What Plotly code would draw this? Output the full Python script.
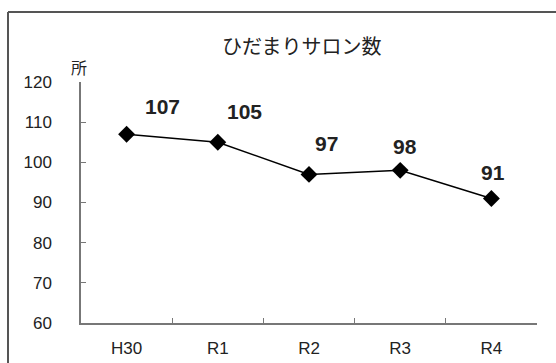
import plotly.graph_objects as go

categories = ["H30", "R1", "R2", "R3", "R4"]
values = [107, 105, 97, 98, 91]
y_ticks = [60, 70, 80, 90, 100, 110, 120]
title_text = "ひだまりサロン数"
unit_text = "所"

# label offsets (px) relative to each point
label_dx = [36, 27, 17, 5, 2]
label_dy = [28, 31, 31, 24, 26]

W, H = 556, 363
ml, mr, mt, mb = 81, 19, 82, 40
pw, ph = W - ml - mr, H - mt - mb

def px_x(p):
    return (p - ml) / pw

def px_y(p):
    return (H - mb - p) / ph

fig = go.Figure()
fig.add_trace(go.Scatter(
    x=categories, y=values, mode="lines+markers",
    line=dict(color="black", width=1.5),
    marker=dict(symbol="diamond", size=13, color="black"),
    hoverinfo="skip", showlegend=False,
))

font = "Liberation Sans, Arial, sans-serif"
for c, v, dx, dy in zip(categories, values, label_dx, label_dy):
    fig.add_annotation(x=c, y=v, text=f"<b>{v}</b>", showarrow=False,
                       xshift=dx, yshift=dy, xanchor="center", yanchor="middle",
                       font=dict(size=21, color="#222", family=font))

fig.add_annotation(xref="paper", yref="paper", x=px_x(302), y=px_y(45),
                   xanchor="center", yanchor="middle",
                   text=title_text, showarrow=False,
                   font=dict(size=20, color="#222", family="Noto Sans CJK JP"))
fig.add_annotation(xref="paper", yref="paper", x=px_x(79), y=px_y(67),
                   xanchor="center", yanchor="middle",
                   text=unit_text, showarrow=False,
                   font=dict(size=16, color="#222", family="Noto Sans CJK JP"))

# outer frame (left and top edges visible in the cropped view)
fig.add_shape(type="line", xref="paper", yref="paper",
              x0=px_x(8), y0=px_y(12), x1=px_x(8), y1=px_y(363),
              line=dict(color="#555", width=2))
fig.add_shape(type="line", xref="paper", yref="paper",
              x0=px_x(8), y0=px_y(12), x1=px_x(556), y1=px_y(12),
              line=dict(color="#555", width=2))

fig.update_layout(
    width=W, height=H,
    margin=dict(l=ml, r=mr, t=mt, b=mb, autoexpand=False),
    paper_bgcolor="white", plot_bgcolor="white",
    xaxis=dict(type="category", tickson="boundaries", ticks="inside",
               ticklen=5, tickcolor="#777", showline=True, linecolor="#777",
               linewidth=1.5, showgrid=False, zeroline=False, automargin=False,
               tickfont=dict(size=17, color="#222", family=font),
               ticklabelstandoff=9, range=[-0.5, 4.5]),
    yaxis=dict(range=[60, 120], tickvals=y_ticks, ticks="inside", ticklen=5,
               tickcolor="#777", showline=True, linecolor="#777", linewidth=1.5,
               showgrid=False, zeroline=False, ticklabelstandoff=24,
               automargin=False,
               tickfont=dict(size=17, color="#222", family=font)),
)

fig.write_html(
    "out.html",
    config={"displayModeBar": False},
    post_script="document.body.style.margin='0';document.body.style.overflow='hidden';",
)
